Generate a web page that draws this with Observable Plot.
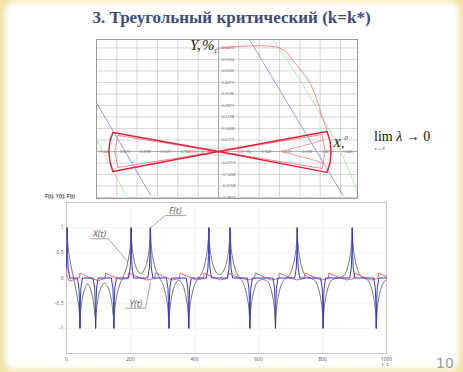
<!DOCTYPE html>
<html><head><meta charset="utf-8">
<script src="https://cdn.jsdelivr.net/npm/d3@7"></script>
<script src="https://cdn.jsdelivr.net/npm/@observablehq/plot@0.6"></script>
<style>
body{margin:0;}
#slide{position:relative;width:463px;height:372px;background:#f2e3a6;overflow:hidden;font-family:"Liberation Sans",sans-serif;}
.abs{position:absolute;white-space:nowrap;}
</style></head>
<body>
<div id="slide">
  <div class="abs" style="left:9px;top:6px;width:446px;height:360px;background:#fff;border-radius:5px;box-shadow:0 0 6px 4px #fff;"></div>
  <div class="abs" style="left:0;top:8px;width:463px;text-align:center;font:bold 17px 'Liberation Serif',serif;line-height:20px;color:#3b4b7d;">3. Треугольный критический (k=k*)</div>
  <div id="bottom" class="abs" style="left:40px;top:192px;"></div>
  <div id="top" class="abs" style="left:95px;top:38px;"></div>
  <div class="abs" style="left:45px;top:193px;font:bold 5px 'Liberation Sans',sans-serif;color:#444;">F(t), Y(t), F(t)</div>
  <div class="abs" style="left:382px;top:361px;font:5px 'Liberation Sans',sans-serif;color:#555;">t, c</div>
  <div class="abs" style="left:190px;top:37px;font:italic 15px 'Liberation Serif',serif;color:#222;">Y,&#8202;%<span style="font-size:8px;vertical-align:-3px;">c</span></div>
  <div class="abs" style="left:333px;top:134px;font:italic 13px 'Liberation Serif',serif;color:#222;">X,<span style="font-size:7px;vertical-align:7px;">0</span></div>
  <div class="abs" style="left:374px;top:129px;font:14px 'Liberation Serif',serif;color:#111;">lim <i>λ</i> → 0</div>
  <div class="abs" style="left:375px;top:146px;font:italic 5px 'Liberation Serif',serif;color:#222;">t→∞</div>
  <div class="abs" style="left:436px;top:355px;font:14px 'DejaVu Sans',sans-serif;color:#9a9a9a;">10</div>
</div>
<script>
// ---------- top phase plot (X vs Y) ----------
const topXTicks = [-1.046,-0.872,-0.698,-0.523,-0.349,-0.174,0,0.174,0.349,0.523,0.698,0.872,1.046];
const topXTickLabels = ["-1.046","-0.872","-0.698","-0.523","-0.349","-0.174","0","0.174","0.349","0.523","0.698","0.872","1.046"];
const topYTicks = [-0.2877,-0.2158,-0.1438,-0.0719,0.0719,0.1438,0.2158,0.2877,0.3596,0.4315,0.5035,0.5754,0.6473];
const topYTickLabels = ["-0.2877","-0.2158","-0.1438","-0.0719","0.0719","0.1438","0.2158","0.2877","0.3596","0.4315","0.5035","0.5754","0.6473"];
// thick bow-tie trajectory
const bowOuter = [[0,0],[0.931,0.125],[0.957,0.0625],[0.965,0],[0.957,-0.069],[0.931,-0.131],[0,0],
  [-0.906,0.119],[-0.931,0.0625],[-0.940,0],[-0.931,-0.0625],[-0.906,-0.125],[0,0]];
// thinner inner loops
const bowInner = [[0,0],[0.889,0.106],[0.914,0],[0.889,-0.106],[0,0],[-0.863,0.100],[-0.889,0],[-0.863,-0.100],[0,0]];
const innerRight = [[0.897,0.070],[0.80,0.050],[0.70,0.031],[0.60,0.012],[0.547,0],[0.60,-0.012],[0.70,-0.031],[0.80,-0.050],[0.897,-0.075]];
const lensCurve = [[0.20,0.006],[0,0.022],[-0.20,0.008],[-0.239,0],[-0.20,-0.008],[0,-0.022],[0.20,-0.006]];
// red upper arc
const redArc = [[0,0.645],[0.530,0.645],[0.672,0.538],[0.786,0.425],[0.854,0.300],[0.889,0.213],[0.914,0.169],[0.931,0.125]];
// blue and green boundary lines
const blueLeft = [[-1.042,0.300],[-0.581,-0.275]];
const blueRight = [[0.265,0.700],[1.068,-0.275]];
const greenLeft = [[-1.042,0.069],[-0.787,-0.281]];
const greenRight = [[0.470,0.700],[0.701,0.444],[0.889,0.213],[1.0,0.069],[1.145,-0.163],[1.188,-0.250]];

const topPlot = Plot.plot({
  width: 263, height: 161,
  marginLeft: 1, marginRight: 1, marginTop: 1, marginBottom: 1,
  x: {domain: [-1.046, 1.192], axis: null},
  y: {domain: [-0.294, 0.700], axis: null},
  style: {background: "#fff", overflow: "hidden"},
  marks: [
    Plot.ruleX(topXTicks, {stroke: "#c4c4c4", strokeWidth: 0.7}),
    Plot.ruleY(topYTicks, {stroke: "#c4c4c4", strokeWidth: 0.7}),
    Plot.ruleX([0], {stroke: "#9a9a9a", strokeWidth: 0.8}),
    Plot.ruleY([0], {stroke: "#9a9a9a", strokeWidth: 0.8}),
    Plot.text(topXTicks, {x: d => d, y: 0, text: (d, i) => topXTickLabels[i], dx: 2, textAnchor: "start", fontSize: 4, fill: "#777"}),
    Plot.text(topYTicks, {x: 0, y: d => d, text: (d, i) => topYTickLabels[i], dx: 3, textAnchor: "start", fontSize: 4, fill: (d, i) => i === 12 ? "#d04050" : "#777"}),
    Plot.line(blueLeft, {x: d => d[0], y: d => d[1], stroke: "#8080dc", strokeWidth: 0.8}),
    Plot.line(blueRight, {x: d => d[0], y: d => d[1], stroke: "#8080dc", strokeWidth: 0.8}),
    Plot.line(greenLeft, {x: d => d[0], y: d => d[1], stroke: "#98dc98", strokeWidth: 0.8}),
    Plot.line(greenRight, {x: d => d[0], y: d => d[1], stroke: "#98dc98", strokeWidth: 0.8, curve: "catmull-rom"}),
    Plot.line(redArc, {x: d => d[0], y: d => d[1], stroke: "#e86870", strokeWidth: 0.8, curve: "catmull-rom"}),
    Plot.line(lensCurve, {x: d => d[0], y: d => d[1], stroke: "#f3a0a8", strokeWidth: 0.7, curve: "catmull-rom"}),
    Plot.line(innerRight, {x: d => d[0], y: d => d[1], stroke: "#ee8088", strokeWidth: 0.8, curve: "catmull-rom"}),
    Plot.line(bowInner, {x: d => d[0], y: d => d[1], stroke: "#ee7080", strokeWidth: 0.8}),
    Plot.line(bowOuter, {x: d => d[0], y: d => d[1], stroke: "#e2203a", strokeWidth: 1.4}),
    Plot.frame({stroke: "#9a9a9a", strokeWidth: 1})
  ]
});
document.getElementById("top").appendChild(topPlot);

// ---------- bottom time series ----------
const tTicks = [0,200,400,600,800,1000];
const tTickLabels = ["0","200","400","600","800","1000"];
const vTicks = [1,0.5,0,-0.5,-1];
const vTickLabels = ["1","0.5","0","-0.5","-1"];

// X(t): grey curve [t, value]
const xSeries = [
[0,0.9],[2,1],
[3,.8],[4,.7],[6,.56],[9,.43],[12,.32],[16,.18],[22,0],[28,-.18],[32,-.32],[35,-.43],[38,-.56],[40,-.7],[41,-.8],[42,-1],
[43,-.8],[44,-.7],[46,-.56],[49,-.43],[52,-.33],[57,-.22],[62,-.14],[66,-.12],[70,-.14],[75,-.22],[80,-.33],[83,-.43],[86,-.56],[88,-.7],[90,-.8],[91,-1],
[92,-.8],[93,-.7],[95,-.56],[98,-.43],[101,-.33],[106,-.22],[112,-.14],[119,-.1],[126,-.14],[132,-.22],[137,-.33],[140,-.43],[143,-.56],[145,-.7],[147,-.8],[148,-1],
[149,-.8],[150,-.7],[152,-.56],[155,-.43],[158,-.33],[163,-.2],[175,0],[187,.2],[192,.33],[195,.43],[198,.56],[200,.7],[201,.8],[202,1],
[203,.8],[204,.7],[206,.56],[209,.43],[212,.33],[217,.22],[223,.14],[232,.09],[241,.14],[247,.22],[252,.33],[255,.43],[258,.56],[260,.7],[261,.8],[262,1],
[263,.8],[264,.7],[266,.56],[269,.43],[272,.33],[277,.2],[291,0],[305,-.2],[310,-.33],[313,-.43],[316,-.56],[318,-.7],[319,-.8],[320,-1],
[321,-.8],[322,-.7],[324,-.56],[327,-.43],[330,-.33],[335,-.2],[342,-.1],[351,-.05],[360,-.1],[367,-.2],[372,-.33],[375,-.43],[378,-.56],[380,-.7],[381,-.8],[382,-1],
[383,-.8],[384,-.7],[386,-.56],[389,-.43],[392,-.33],[397,-.2],[404,-.08],[413,0],[422,.08],[429,.2],[434,.33],[437,.43],[440,.56],[442,.7],[444,.8],[445,1],
[446,.8],[447,.7],[449,.56],[452,.43],[455,.33],[460,.22],[467,.12],[478,.07],[489,.12],[496,.22],[501,.33],[504,.43],[507,.56],[509,.7],[510,.8],[511,1],
[512,.8],[513,.7],[515,.56],[518,.43],[521,.33],[526,.2],[533,.08],[542,0],[551,-.08],[558,-.2],[563,-.33],[566,-.43],[569,-.56],[571,-.7],[572,-.8],[573,-1],
[574,-.8],[575,-.7],[577,-.56],[580,-.43],[583,-.33],[588,-.2],[596,-.08],[613,-.03],[630,-.08],[638,-.2],[643,-.33],[646,-.43],[649,-.56],[651,-.7],[652,-.8],[653,-1],
[654,-.8],[655,-.7],[657,-.56],[660,-.43],[663,-.33],[668,-.2],[676,-.07],[687,0],[698,.07],[706,.2],[711,.33],[714,.43],[717,.56],[719,.7],[720,.8],[721,1],
[722,.8],[723,.7],[725,.56],[728,.43],[731,.33],[736,.2],[745,.06],[761,0],[778,-.06],[787,-.2],[792,-.33],[795,-.43],[798,-.56],[800,-.7],[801,-.8],[802,-1],
[803,-.8],[804,-.7],[806,-.56],[809,-.43],[812,-.33],[817,-.2],[827,-.05],[847,0],[868,.05],[878,.2],[883,.33],[886,.43],[889,.56],[891,.7],[892,.8],[893,1],
[894,.8],[895,.7],[897,.56],[900,.43],[903,.33],[908,.2],[917,.06],[930,0],[944,-.06],[953,-.2],[958,-.33],[961,-.43],[964,-.56],[966,-.7],[967,-.8],[968,-1],
[969,-.8],[970,-.7],[972,-.56],[975,-.43],[978,-.33],[983,-.2],[992,-.08],[1000,-.04]
];

// F(t): blue spikes
const fSeries = [
[0,.2],[1,.6],[2,1],[3.5,.45],[5,.2],[10,0],
[34,0],[39,-.2],[40.5,-.45],[42,-1],[43.5,-.45],[45,-.2],[50,0],
[83,0],[88,-.2],[89.5,-.45],[91,-1],[92.5,-.45],[94,-.2],[99,0],
[140,0],[145,-.2],[146.5,-.45],[148,-1],[149.5,-.45],[151,-.2],[156,0],
[194,0],[199,.2],[200.5,.45],[202,1],[203.5,.45],[205,.2],[210,0],
[254,0],[259,.2],[260.5,.45],[262,1],[263.5,.45],[265,.2],[270,0],
[312,0],[317,-.2],[318.5,-.45],[320,-1],[321.5,-.45],[323,-.2],[328,0],
[374,0],[379,-.2],[380.5,-.45],[382,-1],[383.5,-.45],[385,-.2],[390,0],
[437,0],[442,.2],[443.5,.45],[445,1],[446.5,.45],[448,.2],[453,0],
[503,0],[508,.2],[509.5,.45],[511,1],[512.5,.45],[514,.2],[519,0],
[565,0],[570,-.2],[571.5,-.45],[573,-1],[574.5,-.45],[576,-.2],[581,0],
[645,0],[650,-.2],[651.5,-.45],[653,-1],[654.5,-.45],[656,-.2],[661,0],
[713,0],[718,.2],[719.5,.45],[721,1],[722.5,.45],[724,.2],[729,0],
[794,0],[799,-.2],[800.5,-.45],[802,-1],[803.5,-.45],[805,-.2],[810,0],
[885,0],[890,.2],[891.5,.45],[893,1],[894.5,.45],[896,.2],[901,0],
[960,0],[965,-.2],[966.5,-.45],[968,-1],[969.5,-.45],[971,-.2],[976,0],
[1000,0]
];

// Y(t): small red sawtooth
const ySeries = [
[0,.48],[1,.02],[10,-.06],[25,-.03],[40,0],[42,.1],[60,.04],[80,-.02],[100,-.05],[120,-.01],[122,.1],[140,.04],[170,-.03],[192,-.01],[194,.1],[215,.04],
[250,-.04],[276,-.01],[278,.1],[300,.04],[330,-.04],[353,-.01],[355,.1],[375,.04],[405,-.04],[428,-.01],[430,.1],[450,.04],[480,-.04],[503,-.01],[505,.1],
[525,.04],[565,-.04],[588,-.01],[590,.1],[610,.04],[640,-.04],[663,-.01],[665,.1],[685,.04],[720,-.04],[743,-.01],[745,.1],[765,.04],[795,-.04],[818,-.01],
[820,.1],[840,.04],[875,-.04],[898,-.01],[900,.1],[920,.04],[950,-.04],[973,-.01],[975,.1],[990,.05],[1000,.03]
];

// annotation leaders [t, value]
const fLeader = [[262.5,1.0],[309,1.24],[372,1.24]];
const xLeader = [[190.6,0.33],[131,0.78],[75,0.78]];
const yLeader = [[262,-0.09],[247,-0.6],[184,-0.6]];
const seriesLabels = ["F(t)","X(t)","Y(t)"];
const labelPos = [[340,1.33],[103,0.87],[217,-0.51]];

const bottomPlot = Plot.plot({
  width: 360, height: 175,
  marginLeft: 26, marginRight: 14, marginTop: 10, marginBottom: 14,
  x: {domain: [0, 1000], axis: null},
  y: {domain: [-1.5, 1.5], axis: null},
  style: {background: "transparent", overflow: "visible"},
  marks: [
    Plot.ruleX(tTicks, {stroke: "#eeeeee", strokeWidth: 0.7}),
    Plot.ruleY(vTicks, {stroke: "#eeeeee", strokeWidth: 0.7}),
    Plot.frame({stroke: "#b8b8b8", strokeWidth: 0.8}),
    Plot.text(tTicks, {x: d => d, y: -1.5, text: (d, i) => tTickLabels[i], dy: 6, fontSize: 5, fill: "#666"}),
    Plot.text(vTicks, {x: 0, y: d => d, text: (d, i) => vTickLabels[i], dx: -3, textAnchor: "end", fontSize: 5, fill: "#666"}),
    Plot.line(xSeries, {x: d => d[0], y: d => d[1], stroke: "#626a62", strokeWidth: 0.9, curve: "monotone-x"}),
    Plot.line(ySeries, {x: d => d[0], y: d => d[1], stroke: "#f06078", strokeWidth: 1}),
    Plot.line(fSeries, {x: d => d[0], y: d => d[1], stroke: "#3a38c0", strokeWidth: 1}),
    Plot.line(fLeader, {x: d => d[0], y: d => d[1], stroke: "#666", strokeWidth: 0.6}),
    Plot.line(xLeader, {x: d => d[0], y: d => d[1], stroke: "#666", strokeWidth: 0.6}),
    Plot.line(yLeader, {x: d => d[0], y: d => d[1], stroke: "#666", strokeWidth: 0.6}),
    Plot.text(labelPos, {x: d => d[0], y: d => d[1], text: (d, i) => seriesLabels[i], fontSize: 9, fontStyle: "italic", fill: "#666"})
  ]
});
document.getElementById("bottom").appendChild(bottomPlot);
</script>
</body></html>
